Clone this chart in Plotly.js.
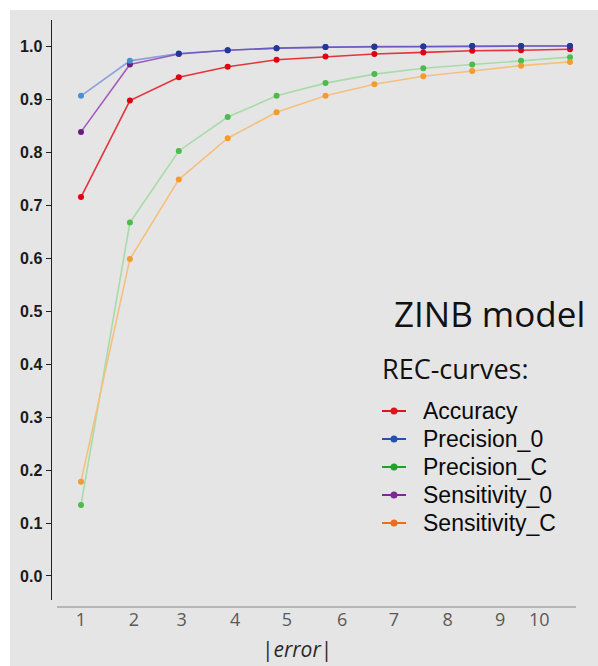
<!DOCTYPE html>
<html>
<head>
<meta charset="utf-8">
<script src="https://cdn.plot.ly/plotly-3.0.1.min.js"></script>
<style>
  html, body { margin: 0; padding: 0; background: #ffffff; }
  #chart { position: absolute; left: 10px; top: 10px; width: 588px; height: 656px; }
</style>
</head>
<body>
<div id="chart"></div>
<script>
// ---- data ----
const errorIndex = [1, 2, 3, 4, 5, 6, 7, 8, 9, 10, 11];
const accuracy      = [0.715, 0.897, 0.941, 0.961, 0.974, 0.980, 0.985, 0.988, 0.991, 0.992, 0.994];
const precision0    = [0.906, 0.972, 0.986, 0.992, 0.996, 0.998, 0.998, 0.999, 1.000, 1.000, 1.000];
const precisionC    = [0.134, 0.667, 0.802, 0.866, 0.906, 0.930, 0.947, 0.958, 0.965, 0.972, 0.979];
const sensitivity0  = [0.838, 0.965, 0.985, 0.992, 0.996, 0.998, 0.999, 0.999, 1.000, 1.000, 1.000];
const sensitivityC  = [0.178, 0.598, 0.748, 0.826, 0.875, 0.906, 0.928, 0.943, 0.953, 0.963, 0.970];
const seriesNames = ["Accuracy", "Precision_0", "Precision_C", "Sensitivity_0", "Sensitivity_C"];
const xTickText = ["1", "2", "3", "4", "5", "6", "7", "8", "9", "10"];
const xTickPos  = [1, 2.08, 3.06, 4.15, 5.21, 6.34, 7.40, 8.50, 9.57, 10.37];
const yTickVals = [0, 0.1, 0.2, 0.3, 0.4, 0.5, 0.6, 0.7, 0.8, 0.9, 1.0];

const legendColors = ["#e3101e", "#2352a8", "#22a02a", "#7a2a90", "#f26a1b"];

function curve(y, lineColor, markerColor) {
  return {
    x: errorIndex, y: y, type: "scatter", mode: "lines+markers",
    line: { color: lineColor, width: 1.6 },
    marker: { color: markerColor, size: 6 },
    showlegend: false, hoverinfo: "skip"
  };
}

const p0MarkerColors = precision0.map((v, i) => i < 2 ? "#4a8fd0" : "#1f3a96");

const traces = [
  curve(precisionC, "#a8dba8", "#4cbb4c"),
  curve(sensitivityC, "#f5c07e", "#f39a30"),
  curve(accuracy, "#e8323c", "#e00010"),
  curve(sensitivity0, "#a05cb8", "#6a1b80"),
  curve(precision0, "rgba(50,90,210,0.5)", p0MarkerColors)
];

// plot area in page pixels: left 52, right 576, top 20, bottom 600
const px = v => (v - 52) / 524;
const py = v => (600 - v) / 580;

const shapes = [
  { type: "line", xref: "paper", yref: "paper", x0: px(57), x1: 1, y0: py(607), y1: py(607),
    line: { color: "#a6a6a6", width: 1.5 } }
];
const annotations = [
  { text: "ZINB model", xref: "paper", yref: "paper", x: px(489), y: py(313),
    xanchor: "center", yanchor: "middle", showarrow: false,
    font: { family: "Open Sans, sans-serif", size: 35, color: "#111111" } },
  { text: "REC-curves:", xref: "paper", yref: "paper", x: px(380), y: py(368),
    xanchor: "left", yanchor: "middle", showarrow: false,
    font: { family: "Open Sans, sans-serif", size: 27, color: "#111111" } },
  { text: "|<i>error</i>|", xref: "paper", yref: "paper", x: px(297), y: py(649),
    xanchor: "center", yanchor: "middle", showarrow: false,
    font: { family: "Open Sans, sans-serif", size: 21, color: "#2a2a2a" } }
];

// custom legend
seriesNames.forEach((n, i) => {
  const yy = py(411 + 28 * i);
  shapes.push({ type: "line", xref: "paper", yref: "paper", x0: px(382), x1: px(406), y0: yy, y1: yy,
    line: { color: legendColors[i], width: 2 } });
  shapes.push({ type: "circle", xref: "paper", yref: "paper",
    x0: px(390.5), x1: px(397.5), y0: yy - 3.5 / 580, y1: yy + 3.5 / 580,
    fillcolor: legendColors[i], line: { color: legendColors[i], width: 0 } });
  annotations.push({ text: n, xref: "paper", yref: "paper", x: px(421), y: yy,
    xanchor: "left", yanchor: "middle", showarrow: false,
    font: { family: "Liberation Sans, Arial, sans-serif", size: 23, color: "#0a0a0a" } });
});

const layout = {
  width: 588, height: 656,
  margin: { l: 42, r: 22, t: 10, b: 66 },
  paper_bgcolor: "#e5e5e5",
  plot_bgcolor: "#e5e5e5",
  showlegend: false,
  xaxis: {
    range: [0.407, 11.123],
    showgrid: false, zeroline: false, showline: false,
    tickmode: "array", tickvals: xTickPos, ticktext: xTickText,
    ticks: "", ticklabelstandoff: 7,
    tickfont: { family: "Open Sans, sans-serif", size: 18, color: "#595959" }
  },
  yaxis: {
    range: [-0.0453, 1.0491],
    showgrid: false, zeroline: false,
    showline: true, linecolor: "#222222", linewidth: 1.5,
    tickmode: "array", tickvals: yTickVals, tickformat: ".1f",
    ticks: "outside", ticklen: 5, tickcolor: "#222222", tickwidth: 1,
    tickfont: { family: "Liberation Sans, Arial, sans-serif", size: 16, color: "#1a1a1a", weight: "bold" }
  },
  shapes: shapes,
  annotations: annotations
};

Plotly.newPlot("chart", traces, layout, { displayModeBar: false, staticPlot: true });
</script>
</body>
</html>
